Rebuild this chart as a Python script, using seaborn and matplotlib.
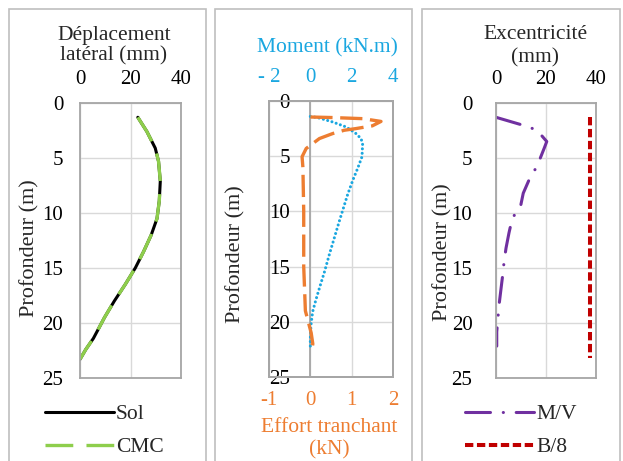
import matplotlib
matplotlib.use("Agg")
import matplotlib.pyplot as plt
import seaborn as sns
from matplotlib.patches import Rectangle

# Panel 1 : déplacement latéral (mm) vs profondeur (m)
depth_dep = [1.3, 2.6, 4.1, 5.3, 7.1, 8.9, 10.5, 12.0, 13.5, 15.0, 16.5, 18.0, 19.5, 21.4, 22.4, 23.3]
dep_sol = [22.9, 26.5, 29.8, 31.1, 31.8, 31.4, 30.5, 28.2, 25.2, 21.9, 17.9, 13.6, 9.7, 5.3, 2.3, 0.0]
dep_cmc = [22.9, 26.5, 29.8, 31.1, 31.8, 31.4, 30.5, 28.2, 25.2, 21.9, 17.9, 13.6, 9.7, 5.3, 2.3, 0.0]

# Panel 2 : moment (kN.m) and effort tranchant (kN)
depth_m = [1.4, 1.5, 1.9, 2.35, 2.9, 3.4, 3.85, 5.05, 6.1, 7.2, 8.5, 9.7, 10.9, 12.4, 13.9,
           15.5, 16.7, 18.0, 19.1, 20.3, 21.5, 22.5]
moment = [0.0, 0.35, 1.08, 1.73, 2.18, 2.45, 2.53, 2.5, 2.29, 2.05, 1.8, 1.6, 1.4, 1.16, 0.92,
          0.68, 0.48, 0.27, 0.11, 0.03, 0.0, 0.0]
depth_v = [1.45, 1.5, 1.6, 1.85, 2.25, 2.5, 2.65, 2.95, 3.4, 4.3, 5.05, 6.0, 8.0, 10.0, 15.0,
           19.0, 20.0, 21.0, 22.0, 22.7]
shear = [0.0, 0.54, 1.27, 1.71, 1.5, 1.1, 0.82, 0.54, 0.22, -0.1, -0.2, -0.18, -0.17, -0.16, -0.16,
         -0.12, -0.05, 0.02, 0.06, 0.03]

# Panel 3 : excentricité (mm)
depth_e = [1.3, 2.0, 2.45, 3.5, 4.1, 5.7, 7.0, 8.2, 9.3, 10.5, 11.8, 13.2, 14.5, 15.6, 16.9,
           18.4, 19.5, 20.8, 22.1]
exc_mv = [0.0, 10.5, 16.3, 20.3, 19.3, 16.5, 13.2, 10.9, 9.9, 6.5, 5.2, 4.0, 3.2, 2.7, 2.0,
          1.2, 0.8, 0.3, 0.3]
depth_b8 = [1.3, 23.2]
exc_b8 = [37.5, 37.5]

depth_ticks = [0, 5, 10, 15, 20, 25]
mm_ticks = [0, 20, 40]
moment_ticks = [-2, 0, 2, 4]
moment_labels = ["- 2", "0", "2", "4"]
shear_ticks = [-1, 0, 1, 2]
shear_labels = ["-1", "0", "1", "2"]

BLUE = "#1AA7E0"
ORANGE = "#ED7D31"
GREEN = "#8ECE4C"
PURPLE = "#7030A0"
RED = "#C00000"
SPINE = "#a6a6a6"
GRID = "#d9d9d9"

sns.set_theme(style="white")
plt.rcParams["font.family"] = "serif"
plt.rcParams["font.serif"] = ["Liberation Serif", "DejaVu Serif"]
plt.rcParams["lines.scale_dashes"] = False

W, H = 623, 461
fig = plt.figure(figsize=(W / 100, H / 100), dpi=100)


def box(x0, y0, x1, y1):
    return [x0 / W, 1 - y1 / H, (x1 - x0) / W, (y1 - y0) / H]


def fx(x):
    return x / W


def fy(y):
    return 1 - y / H


# panel frames
for x0, x1 in [(9, 206), (215, 412), (422, 620)]:
    fig.add_artist(Rectangle((fx(x0), fy(475)), (x1 - x0) / W, (475 - 9) / H,
                             transform=fig.transFigure, fill=False, ec="#bfbfbf", lw=1.2))


def style(ax, ypad):
    ax.set_ylim(25, 0)
    ax.set_yticks(depth_ticks)
    ax.grid(True, color=GRID, lw=1)
    for s in ax.spines.values():
        s.set_color(SPINE)
        s.set_linewidth(1.3)
    ax.tick_params(length=0, labelsize=15, colors="black")
    ax.tick_params(axis="y", pad=ypad)
    ax.set_xlabel("")
    ax.set_ylabel("")


leg_kw = dict(bbox_transform=fig.transFigure, frameon=False, fontsize=15.5, handlelength=3.2,
              handletextpad=0.1, labelspacing=0.6, borderpad=0, borderaxespad=0, loc="upper left")

# ---- panel 1
ax1 = fig.add_axes(box(80, 103, 181, 378))
sns.lineplot(x=dep_sol, y=depth_dep, sort=False, estimator=None, orient="y", ax=ax1,
             color="black", lw=2.2, label="Sol")
sns.lineplot(x=dep_cmc, y=depth_dep, sort=False, estimator=None, orient="y", ax=ax1,
             color=GREEN, lw=2.4, linestyle=(0, (20, 9.5)), label="CMC")
ax1.set_xlim(0, 40)
ax1.set_xticks(mm_ticks)
style(ax1, 12)
ax1.xaxis.tick_top()
ax1.tick_params(axis="x", pad=10)
ax1.legend(bbox_to_anchor=(fx(45), fy(404)), **leg_kw)

fig.text(fx(114), fy(40), "Déplacement", ha="center", va="baseline", fontsize=15.5)
fig.text(fx(114), fy(60), "latéral (mm)", ha="center", va="baseline", fontsize=15.5)
fig.text(fx(30), fy(248), "Profondeur (m)", rotation=90, ha="center", va="center", fontsize=16)

# ---- panel 2
ax2 = fig.add_axes(box(269, 101, 393, 377))
ax2b = ax2.twiny()
sns.lineplot(x=moment, y=depth_m, sort=False, estimator=None, orient="y", ax=ax2,
             color=BLUE, lw=2.2, linestyle=(0, (0.01, 3.2)), dash_capstyle="round")
sns.lineplot(x=shear, y=depth_v, sort=False, estimator=None, orient="y", ax=ax2b,
             color=ORANGE, lw=2.4, linestyle=(0, (16, 5.5)))
ax2.set_xlim(-2, 4)
ax2.set_xticks(moment_ticks, moment_labels)
style(ax2, -15)
ax2.axvline(0, color=SPINE, lw=1.3, zorder=1.5)
ax2.xaxis.set_ticks_position("top")
ax2.xaxis.set_label_position("top")
ax2.tick_params(axis="x", pad=10, colors=BLUE)

ax2b.set_xlim(-1, 2)
ax2b.set_xticks(shear_ticks, shear_labels)
ax2b.xaxis.set_ticks_position("bottom")
ax2b.xaxis.set_label_position("bottom")
ax2b.tick_params(length=0, labelsize=15, pad=10, colors=ORANGE)
ax2b.set_xlabel("")
ax2b.set_ylabel("")
for s in ax2b.spines.values():
    s.set_color(SPINE)
    s.set_linewidth(1.3)
ax2.set_ylim(25, 0)

fig.text(fx(327), fy(52), "Moment (kN.m)", ha="center", va="baseline", fontsize=15.5, color=BLUE)
fig.text(fx(329), fy(432), "Effort tranchant", ha="center", va="baseline", fontsize=15.5, color=ORANGE)
fig.text(fx(329), fy(454), "(kN)", ha="center", va="baseline", fontsize=15.5, color=ORANGE)
fig.text(fx(236), fy(254), "Profondeur (m)", rotation=90, ha="center", va="center", fontsize=16)

# ---- panel 3
ax3 = fig.add_axes(box(496, 103, 596, 378))
sns.lineplot(x=exc_mv, y=depth_e, sort=False, estimator=None, orient="y", ax=ax3,
             color=PURPLE, lw=2.2, linestyle=(0, (18, 9.2, 0.1, 9.2)), dash_capstyle="round",
             label="M/V")
sns.lineplot(x=exc_b8, y=depth_b8, sort=False, estimator=None, orient="y", ax=ax3,
             color=RED, lw=2.9, linestyle=(0, (6, 2.6)), label="B/8")
ax3.set_xlim(0, 40)
ax3.set_xticks(mm_ticks)
style(ax3, 17)
ax3.xaxis.tick_top()
ax3.tick_params(axis="x", pad=10)
ax3.legend(bbox_to_anchor=(fx(465), fy(404)), **leg_kw)

fig.text(fx(536), fy(39), "Excentricité", ha="center", va="baseline", fontsize=15.5)
fig.text(fx(535), fy(62), "(mm)", ha="center", va="baseline", fontsize=15.5)
fig.text(fx(443), fy(252), "Profondeur (m)", rotation=90, ha="center", va="center", fontsize=16)

fig.savefig("out.png", dpi=100)
